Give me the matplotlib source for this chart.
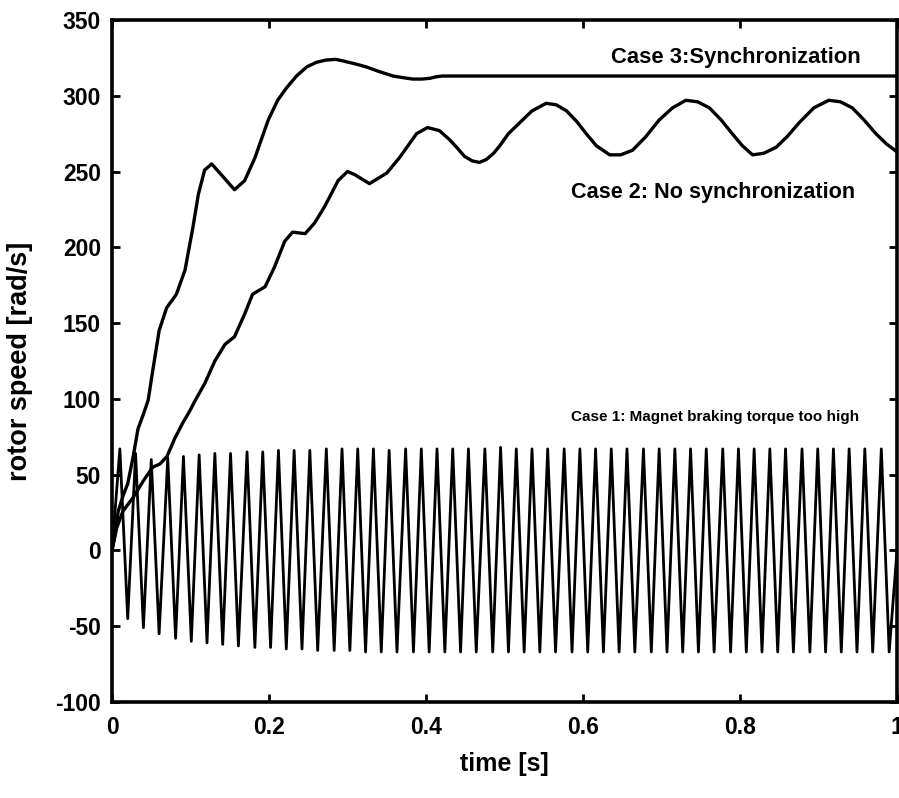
import numpy as np
import matplotlib
matplotlib.use('Agg')
import matplotlib.pyplot as plt

plt.rcParams['axes.unicode_minus'] = False

# --- data ---------------------------------------------------------------------
# Case 3: synchronisation (settles at ~313 rad/s)
case3_t = [0.0, 0.004, 0.008, 0.014, 0.020, 0.027, 0.033, 0.040, 0.046, 0.052,
           0.060, 0.0695, 0.082, 0.093, 0.103, 0.110, 0.118, 0.127, 0.139, 0.156,
           0.169, 0.182, 0.199, 0.211, 0.222, 0.235, 0.248, 0.260, 0.272, 0.285,
           0.294, 0.310, 0.324, 0.340, 0.358, 0.370, 0.383, 0.395, 0.405, 0.413,
           0.421, 1.0]
case3_v = [0, 12, 26, 36, 44, 62, 80, 90, 99, 119,
           145, 160, 169, 185, 213, 235, 251, 255, 248, 238,
           244, 259, 284, 297, 305, 313, 319, 322, 323.5, 324,
           323, 321, 319, 316, 313, 312, 311, 311, 311.5, 312.5,
           313, 313]

# Case 2: no synchronisation (keeps swinging between ~260 and ~297)
case2_t = [0.0, 0.006, 0.014, 0.027, 0.040, 0.052, 0.061, 0.070, 0.080, 0.090,
           0.099, 0.106, 0.118, 0.131, 0.144, 0.156, 0.169, 0.179, 0.195, 0.207,
           0.220, 0.230, 0.246, 0.258, 0.271, 0.288, 0.300, 0.309, 0.328, 0.350,
           0.366, 0.388, 0.402, 0.417, 0.430, 0.439, 0.449, 0.459, 0.468, 0.477,
           0.486, 0.494, 0.505, 0.519, 0.535, 0.553, 0.566, 0.579, 0.592, 0.604,
           0.617, 0.634, 0.648, 0.663, 0.680, 0.697, 0.714, 0.731, 0.746, 0.761,
           0.776, 0.790, 0.803, 0.816, 0.830, 0.846, 0.860, 0.875, 0.894, 0.913,
           0.928, 0.943, 0.958, 0.973, 0.987, 1.0]
case2_v = [0, 15, 26, 35, 46, 55, 57, 62, 74, 84,
           92, 99, 110, 125, 136, 141, 156, 169, 174, 187,
           204, 210, 209, 216, 227, 244, 250, 248, 242, 249,
           259, 275, 279, 277, 271, 266, 260, 257, 256, 258,
           262, 267, 275, 282, 290, 295, 294, 290, 283, 275,
           267, 261, 261, 264, 273, 284, 292, 297, 296, 292,
           284, 275, 267, 261, 262, 266, 273, 282, 292, 297,
           296, 292, 284, 275, 268, 263]

# Case 1: braking torque too high -> rotor oscillates around zero (~50 Hz)
case1_peak_t = [0.010, 0.030, 0.050, 0.071, 0.091, 0.111, 0.131, 0.151, 0.172, 0.192,
                0.212, 0.232, 0.252, 0.273, 0.293, 0.313, 0.333, 0.353, 0.374, 0.394,
                0.414, 0.434, 0.454, 0.475, 0.495, 0.515, 0.535, 0.555, 0.576, 0.596,
                0.616, 0.636, 0.656, 0.677, 0.697, 0.717, 0.737, 0.757, 0.778, 0.798,
                0.818, 0.838, 0.858, 0.879, 0.899, 0.919, 0.939, 0.959, 0.980]
case1_peak_v = [67, 64, 60, 61, 62, 63, 64, 64, 65, 65,
                66, 66, 66, 67, 67, 67, 67, 66, 67, 67,
                67, 67, 67, 67, 68, 67, 67, 67, 67, 67,
                67, 67, 67, 67, 67, 67, 67, 67, 67, 67,
                67, 67, 67, 67, 67, 67, 67, 67, 67]
case1_trough_t = [0.020, 0.040, 0.060, 0.081, 0.101, 0.121, 0.141, 0.161, 0.182, 0.202,
                  0.222, 0.242, 0.262, 0.283, 0.303, 0.323, 0.343, 0.363, 0.384, 0.404,
                  0.424, 0.444, 0.464, 0.485, 0.505, 0.525, 0.545, 0.565, 0.586, 0.606,
                  0.626, 0.646, 0.666, 0.687, 0.707, 0.727, 0.747, 0.767, 0.788, 0.808,
                  0.828, 0.848, 0.868, 0.889, 0.909, 0.929, 0.949, 0.969, 0.990]
case1_trough_v = [-45, -51, -55, -58, -60, -61, -62, -63, -64, -64,
                  -65, -65, -66, -66, -66, -67, -67, -67, -67, -67,
                  -67, -67, -67, -67, -67, -67, -67, -67, -67, -67,
                  -67, -67, -67, -67, -67, -67, -67, -67, -67, -67,
                  -67, -67, -67, -67, -67, -67, -67, -67, -67]
case1_start = (0.0, 0)
case1_end = (1.0, 0)

x_ticks = [0, 0.2, 0.4, 0.6, 0.8, 1]
x_tick_labels = ['0', '0.2', '0.4', '0.6', '0.8', '1']
y_ticks = [-100, -50, 0, 50, 100, 150, 200, 250, 300, 350]

# merge peaks/troughs of case 1 into one time-ordered trace
c1_t = np.concatenate([[case1_start[0]], case1_peak_t, case1_trough_t, [case1_end[0]]])
c1_v = np.concatenate([[case1_start[1]], case1_peak_v, case1_trough_v, [case1_end[1]]])
order = np.argsort(c1_t)
c1_t, c1_v = c1_t[order], c1_v[order]

# --- figure -------------------------------------------------------------------
font = ['Liberation Sans', 'DejaVu Sans']

fig = plt.figure(figsize=(8.99, 7.98), dpi=100)
ax = fig.add_axes([0.1246, 0.1203, 0.8732, 0.8547])

ax.plot(c1_t, c1_v, color='black', linewidth=2.0, solid_joinstyle='round')
ax.plot(case2_t, case2_v, color='black', linewidth=2.4, solid_joinstyle='round')
ax.plot(case3_t, case3_v, color='black', linewidth=2.4, solid_joinstyle='round')

ax.set_xlim(0, 1)
ax.set_ylim(-100, 350)
ax.set_xticks(x_ticks)
ax.set_xticklabels(x_tick_labels)
ax.set_yticks(y_ticks)

for spine in ax.spines.values():
    spine.set_linewidth(2.6)

ax.tick_params(direction='in', length=6, width=2.0, top=True, right=True,
               labelsize=16.5)
ax.tick_params(axis='x', pad=10)
ax.tick_params(axis='y', pad=8)
for lbl in ax.get_xticklabels() + ax.get_yticklabels():
    lbl.set_family(font)
    lbl.set_fontweight('bold')

ax.set_xlabel('time [s]', fontsize=18, fontweight='bold', family=font)
ax.set_ylabel('rotor speed [rad/s]', fontsize=19.5, fontweight='bold', family=font)
ax.xaxis.set_label_coords(0.5, -0.073)
ax.yaxis.set_label_coords(-0.1006, 0.5)

ax.text(0.636, 325, 'Case 3:Synchronization', fontsize=15.8, fontweight='bold',
        family=font, ha='left', va='center')
ax.text(0.585, 236, 'Case 2: No synchronization', fontsize=15.6, fontweight='bold',
        family=font, ha='left', va='center')
ax.text(0.585, 88, 'Case 1: Magnet braking torque too high', fontsize=11,
        fontweight='bold', family=font, ha='left', va='center')

fig.savefig('out.png', dpi=100, facecolor='white')
